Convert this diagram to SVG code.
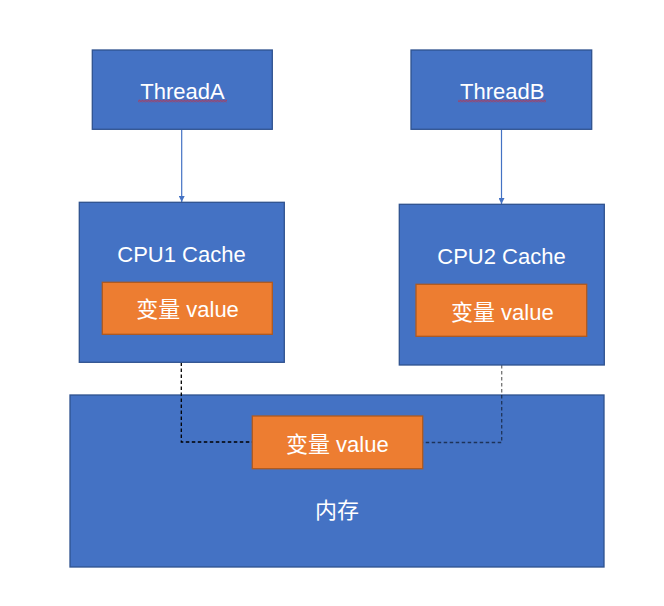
<svg xmlns="http://www.w3.org/2000/svg" width="664" height="606" viewBox="0 0 664 606">
<style>
.blue{fill:#4472C4;stroke:#2F528F;stroke-width:1.3}
.orange{fill:#ED7D31;stroke:#AE5A21;stroke-width:1.3}
.t{font-family:"Liberation Sans","Noto Sans CJK SC",sans-serif;font-size:22px;fill:#FFFFFF;text-anchor:middle}
.arrow{stroke:#4472C4;stroke-width:1.2;fill:none}
.dash{stroke:#000;stroke-width:1.3;fill:none;stroke-dasharray:3.5 2.5}
</style>
<defs>
<marker id="ah" viewBox="0 0 10 10" refX="10" refY="5" markerWidth="6" markerHeight="6" orient="auto" markerUnits="userSpaceOnUse">
<path d="M0,0 L10,5 L0,10 z" fill="#4472C4"/>
</marker>
<pattern id="sq" width="3" height="3" patternUnits="userSpaceOnUse" x="0" y="99.5">
<polyline points="0,2.5 1.5,0.5 3,2.5" fill="none" stroke="#E0202A" stroke-width="0.9"/>
</pattern>
</defs>
<rect width="664" height="606" fill="#FFFFFF"/>
<g id="memory">
<rect class="blue" x="70" y="395" width="534" height="172"/>
<text class="t" x="337" y="518">内存</text>
</g>
<g id="connectors">
<line class="arrow" x1="181.7" y1="129.5" x2="181.7" y2="202" marker-end="url(#ah)"/>
<line class="arrow" x1="501.5" y1="129.5" x2="501.5" y2="204" marker-end="url(#ah)"/>
<polyline class="dash" points="181.3,362.5 181.3,442 252.3,442"/>
<polyline class="dash" points="501.7,365 501.7,442.5 422.7,442.5" stroke-opacity="0.55"/>
</g>
<g id="threadA">
<rect class="blue" x="92.3" y="50" width="180" height="79.3"/>
<text class="t" x="182.5" y="99">ThreadA</text>
<rect x="138" y="99.5" width="89" height="3" fill="url(#sq)"/>
</g>
<g id="threadB">
<rect class="blue" x="411" y="50" width="180.7" height="79.3"/>
<text class="t" x="502.2" y="99">ThreadB</text>
<rect x="458" y="99.5" width="88" height="3" fill="url(#sq)"/>
</g>
<g id="cpu1">
<rect class="blue" x="79.3" y="202.3" width="205" height="160"/>
<text class="t" x="181.5" y="261.5">CPU1 Cache</text>
</g>
<g id="var1">
<rect class="orange" x="102.3" y="282.3" width="170" height="52"/>
<text class="t" x="187.5" y="316.5">变量 value</text>
</g>
<g id="cpu2">
<rect class="blue" x="399.3" y="204.3" width="205" height="160.7"/>
<text class="t" x="501.5" y="264">CPU2 Cache</text>
</g>
<g id="var2">
<rect class="orange" x="416" y="284.3" width="170.7" height="52"/>
<text class="t" x="502.3" y="320">变量 value</text>
</g>
<g id="var-mem">
<rect class="orange" x="252.3" y="416" width="170.4" height="52.7"/>
<text class="t" x="337.3" y="451.5">变量 value</text>
</g>
</svg>
